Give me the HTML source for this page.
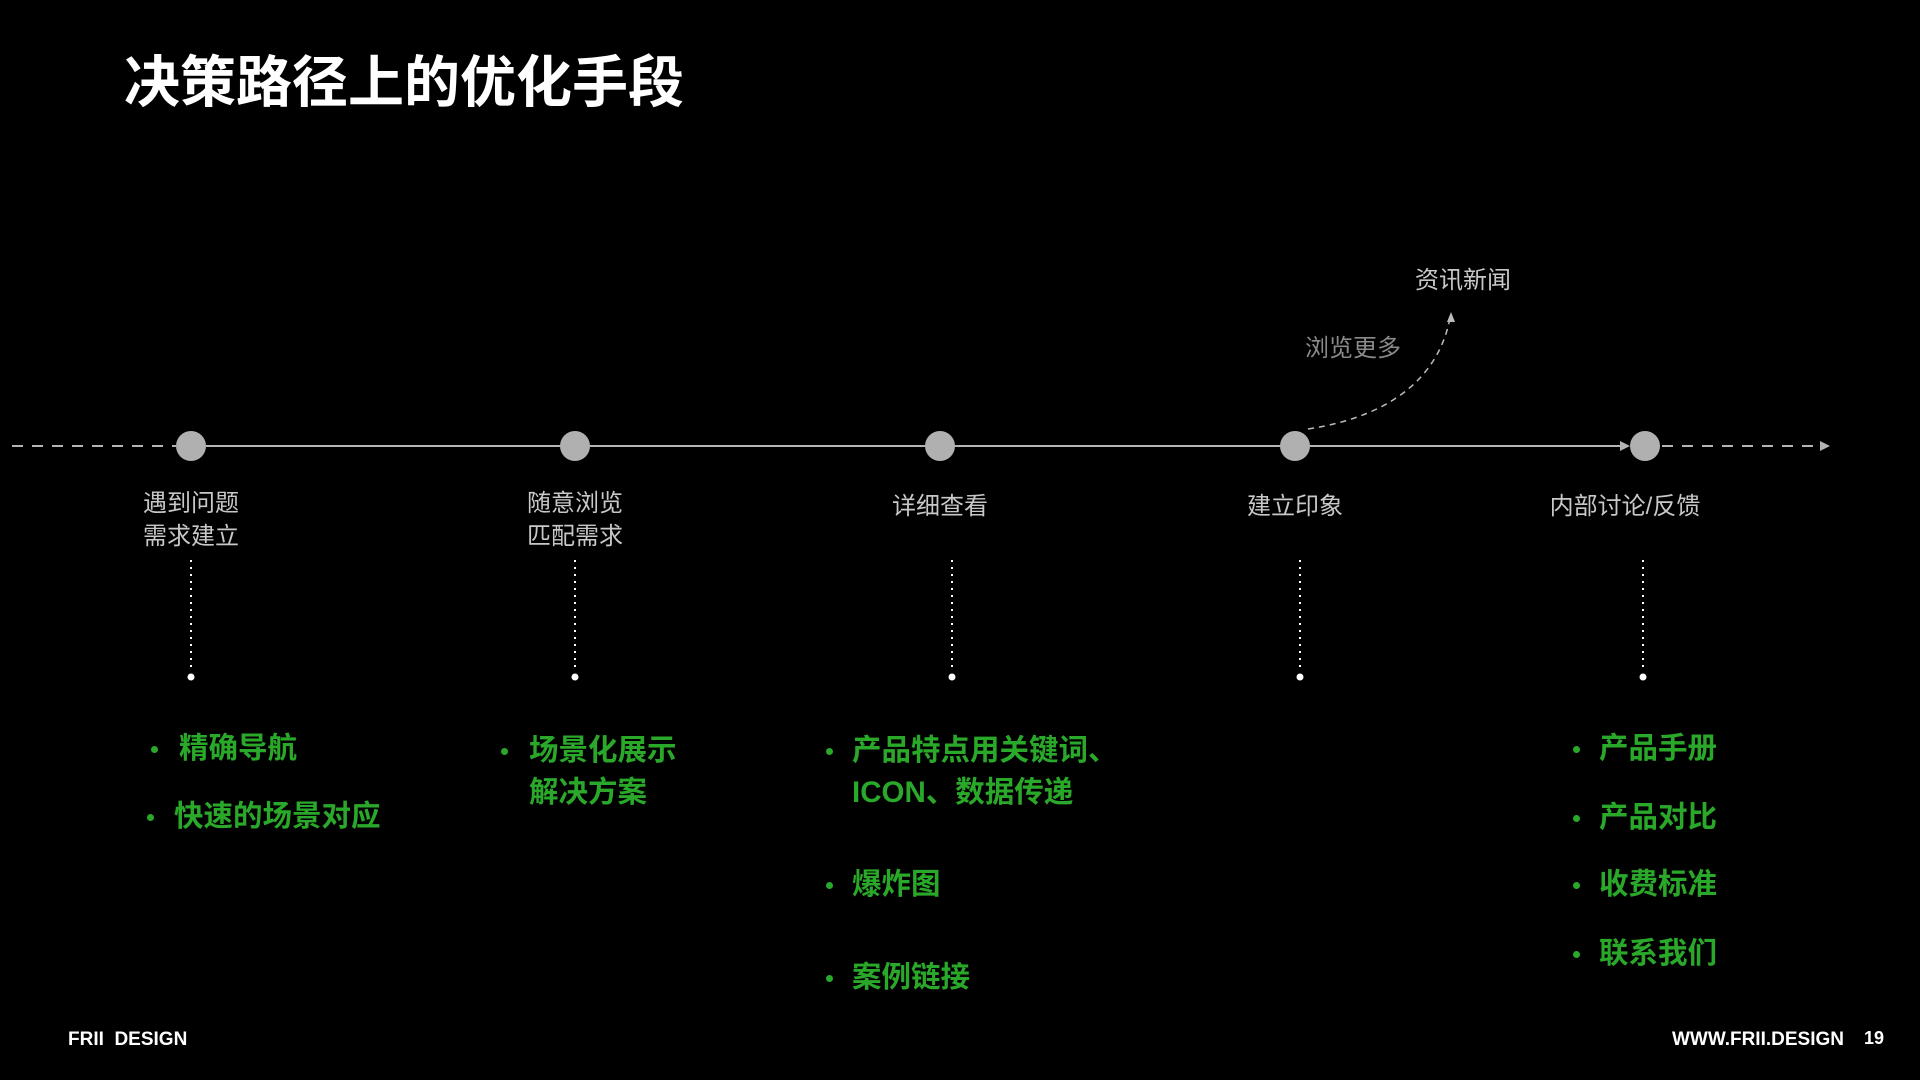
<!DOCTYPE html>
<html><head><meta charset="utf-8"><style>
body{margin:0;width:1920px;height:1080px;background:#000;overflow:hidden;position:relative;font-family:"Liberation Sans","Noto Sans CJK SC",sans-serif}
.t{position:absolute;white-space:nowrap}
.lab{color:#c8c8c8;font-size:24px;line-height:33px;text-align:center;transform:translateX(-50%)}
.g{color:#2aa82a;font-size:29.5px;font-weight:bold;line-height:42px}
.dot{position:absolute;width:7px;height:7px;border-radius:50%;background:#2aa82a}
</style></head><body>
<div class="t" style="left:124px;top:50px;font-size:56px;font-weight:bold;color:#fff;line-height:66px">决策路径上的优化手段</div>

<svg width="1920" height="1080" style="position:absolute;left:0;top:0">
<g stroke="#b4b4b4" stroke-width="2" fill="none">
<line x1="12" y1="446" x2="176" y2="446" stroke-dasharray="11,9"/>
<line x1="206" y1="446" x2="1622" y2="446"/>
<line x1="1662" y1="446" x2="1822" y2="446" stroke-dasharray="11,9"/>
</g>
<polygon points="1630,446 1620,441 1620,451" fill="#b4b4b4"/>
<polygon points="1830,446 1820,441 1820,451" fill="#b4b4b4"/>
<path d="M1308,429 C1400,415 1440,370 1450,318" stroke="#bbb" stroke-width="1.5" fill="none" stroke-dasharray="6,5"/>
<polygon points="1451,312 1447,322 1455,322" fill="#bbb"/>
<g fill="#b0b0b0">
<circle cx="191" cy="446" r="15"/><circle cx="575" cy="446" r="15"/><circle cx="940" cy="446" r="15"/><circle cx="1295" cy="446" r="15"/><circle cx="1645" cy="446" r="15"/>
</g>
<g stroke="#fff" stroke-width="2" stroke-dasharray="2,5">
<line x1="191" y1="560" x2="191" y2="672"/><line x1="575" y1="560" x2="575" y2="672"/><line x1="952" y1="560" x2="952" y2="672"/><line x1="1300" y1="560" x2="1300" y2="672"/><line x1="1643" y1="560" x2="1643" y2="672"/>
</g>
<g fill="#fff">
<circle cx="191" cy="677" r="3.5"/><circle cx="575" cy="677" r="3.5"/><circle cx="952" cy="677" r="3.5"/><circle cx="1300" cy="677" r="3.5"/><circle cx="1643" cy="677" r="3.5"/>
</g>
</svg>

<div class="t lab" style="left:191px;top:487px">遇到问题<br>需求建立</div>
<div class="t lab" style="left:575px;top:487px">随意浏览<br>匹配需求</div>
<div class="t lab" style="left:940px;top:490px">详细查看</div>
<div class="t lab" style="left:1295px;top:490px">建立印象</div>
<div class="t lab" style="left:1625px;top:490px">内部讨论/反馈</div>
<div class="t lab" style="left:1463px;top:264px">资讯新闻</div>
<div class="t lab" style="left:1353px;top:332px;color:#8a8a8a">浏览更多</div>

<div class="dot" style="left:151px;top:746px"></div><div class="t g" style="left:179px;top:728px">精确导航</div>
<div class="dot" style="left:147px;top:814px"></div><div class="t g" style="left:174px;top:796px">快速的场景对应</div>

<div class="dot" style="left:501px;top:748px"></div><div class="t g" style="left:529px;top:730px">场景化展示<br>解决方案</div>

<div class="dot" style="left:826px;top:748px"></div><div class="t g" style="left:852px;top:730px">产品特点用关键词、<br>ICON、数据传递</div>
<div class="dot" style="left:826px;top:882px"></div><div class="t g" style="left:852px;top:864px">爆炸图</div>
<div class="dot" style="left:826px;top:975px"></div><div class="t g" style="left:852px;top:957px">案例链接</div>

<div class="dot" style="left:1573px;top:746px"></div><div class="t g" style="left:1599px;top:728px">产品手册</div>
<div class="dot" style="left:1573px;top:815px"></div><div class="t g" style="left:1599px;top:797px">产品对比</div>
<div class="dot" style="left:1573px;top:882px"></div><div class="t g" style="left:1599px;top:864px">收费标准</div>
<div class="dot" style="left:1573px;top:951px"></div><div class="t g" style="left:1599px;top:933px">联系我们</div>

<div class="t" style="left:68px;top:1029px;color:#fff;font-size:19px;font-weight:bold">FRII&nbsp; DESIGN</div>
<div class="t" style="right:76px;top:1029px;color:#fff;font-size:19px;font-weight:bold">WWW.FRII.DESIGN</div>
<div class="t" style="left:1864px;top:1028px;color:#fff;font-size:18px;font-weight:bold">19</div>
</body></html>
